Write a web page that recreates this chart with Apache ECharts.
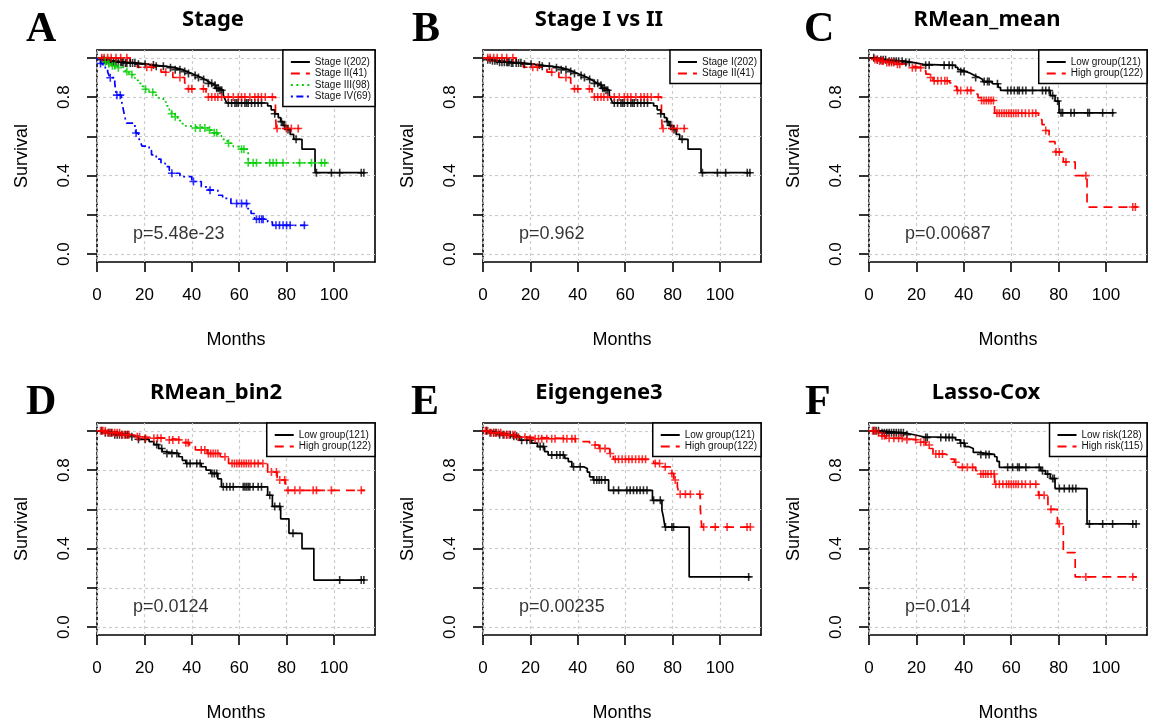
<!DOCTYPE html>
<html><head><meta charset="utf-8">
<script src="https://cdn.jsdelivr.net/npm/echarts@6/dist/echarts.min.js"></script>
<style>html,body{margin:0;padding:0;background:#fff}#c{width:1150px;height:726px}</style>
</head><body><div id="c"></div>
<script>
// ---------------- DATA ----------------
const xTicks = [0, 20, 40, 60, 80, 100];
const yTicks = [0, 0.2, 0.4, 0.6, 0.8, 1.0];
const yLabelValues = [0, 0.4, 0.8];
const panelLetters = ['A', 'B', 'C', 'D', 'E', 'F'];
const panelTitles = ['Stage', 'Stage I vs II', 'RMean_mean', 'RMean_bin2', 'Eigengene3', 'Lasso-Cox'];
const pValues = ['p=5.48e-23', 'p=0.962', 'p=0.00687', 'p=0.0124', 'p=0.00235', 'p=0.014'];

// Stage curves (panel A, B)
const stageI_steps = [[0,1],[2,0.99],[4,0.985],[7,0.978],[12,0.974],[17,0.968],[21,0.963],[24,0.957],[29,0.95],[33,0.94],[36,0.93],[38,0.92],[40,0.91],[42,0.9],[44,0.89],[45.5,0.88],[47,0.87],[48.5,0.86],[50,0.845],[51.5,0.835],[53.3,0.81],[54,0.79],[54.7,0.77],[72,0.755],[73.5,0.735],[75,0.715],[76.5,0.695],[77.5,0.675],[78.5,0.655],[80,0.635],[81.5,0.61],[83,0.585],[86.5,0.535],[92,0.415],[113,0.415]];
const stageI_censor = [2,3,4,5,6,7,8,9,10,10.5,11,12,12.6,14,15,16,17.5,20.3,23.8,25,28,31,33,35,37,38.6,41.4,42.8,45,47,48.4,49.8,50.5,51.2,51.9,52.6,55.4,56.8,58.2,58.9,59.6,61,62.4,63.1,63.8,65.2,66.6,68,69.4,75,77.8,79.2,80.6,84,92.6,98.9,102.4,111.5,112.6];
const stageII_steps = [[0,1],[14,0.976],[17,0.952],[27,0.927],[32,0.9],[37,0.871],[38,0.842],[46,0.8],[75.3,0.72],[75.6,0.64],[85.5,0.64]];
const stageII_censor = [2,3,4.5,6,8,10,12.6,21,23,29,35,38.6,40,44.9,47,48.4,49.8,51,52.6,55.4,57.5,59.6,61,62.4,64.5,66.6,68,69.4,71,74,76,79.9,82,84.9];
const stageIII_steps = [[0,1],[2,0.99],[3,0.98],[4,0.97],[6,0.96],[8,0.95],[12,0.93],[13.5,0.915],[15,0.9],[16,0.885],[17.5,0.87],[19,0.855],[20.5,0.84],[22,0.825],[24,0.81],[26,0.795],[28,0.775],[29.5,0.755],[30.5,0.735],[31.5,0.715],[33,0.7],[34,0.68],[35.5,0.665],[37.5,0.652],[40,0.643],[47,0.632],[49,0.618],[51,0.604],[52.5,0.585],[55,0.565],[57.5,0.548],[60,0.535],[63.8,0.465],[97,0.465]];
const stageIII_censor = [3.5,5,6.5,7.5,9,12.6,14.7,20.5,23.5,31.5,33,41.5,43.5,45.5,47.5,49.5,50.5,55.5,61,62,63.8,65.9,67.3,72.9,74.3,75.7,78.5,85.5,90.5,94.7,96.1];
const stageIV_steps = [[0,1],[0.5,0.985],[1.5,0.971],[2.5,0.957],[3.5,0.942],[4.5,0.928],[5,0.913],[5.5,0.899],[7.5,0.87],[7.8,0.84],[8.2,0.81],[10.3,0.783],[10.8,0.754],[11.3,0.725],[11.8,0.696],[12.5,0.667],[16,0.638],[16.5,0.617],[17.5,0.594],[18.3,0.572],[19,0.55],[22,0.528],[23,0.506],[25,0.484],[27,0.462],[28.8,0.446],[30.5,0.428],[31.5,0.412],[35,0.395],[40,0.37],[44,0.343],[47,0.326],[51,0.3],[53,0.284],[56.5,0.258],[63.5,0.232],[65,0.207],[66.5,0.178],[72,0.164],[74,0.147],[88,0.147]];
const stageIV_censor = [1.5,5.6,8.4,9.8,16.5,31.6,40.7,47.7,58.9,61,63.1,67.3,68.5,69.5,70.1,75.5,77,78.5,80,81.5,87.5];

// RMean_mean (panel C)
const rmeanLow_steps = [[0,1],[3,0.99],[8,0.983],[15,0.976],[19,0.967],[23,0.962],[36.5,0.951],[37.5,0.94],[38.5,0.93],[41,0.92],[43,0.91],[44.5,0.9],[46.5,0.89],[48,0.879],[52,0.868],[54.5,0.85],[55.5,0.834],[76.5,0.808],[78.5,0.78],[80.2,0.72],[103.5,0.72]];
const rmeanLow_censor = [2,3.5,5,6,7,8.5,9.5,10.5,11.5,12.5,14,15.5,17,23.9,25.4,31.7,33.8,35.2,38.7,40.1,45,48.6,50,50.7,54.2,58.5,59.9,61.3,62.7,63.4,64.8,66.2,69,73.2,74.6,76,77.5,79.6,81,81.7,85.2,86.6,92.3,93,98.6,102.8];
const rmeanHigh_steps = [[0,1],[2,0.992],[4,0.984],[7,0.976],[11,0.968],[15.5,0.96],[17,0.95],[22,0.934],[24,0.917],[25.5,0.9],[27,0.883],[34,0.872],[35.5,0.855],[37,0.834],[44,0.815],[46,0.797],[47.5,0.783],[53,0.718],[71.5,0.685],[73,0.66],[74.5,0.63],[76,0.573],[78.5,0.52],[82,0.47],[87,0.4],[92,0.24],[113.4,0.24]];
const rmeanHigh_censor = [2.5,3.5,4.5,5.5,6,7.5,8.5,9.5,10.5,12,13,18.3,19.7,21.8,26,27.5,29,30.5,32,33,37.3,38.7,41.5,43,47.5,48.5,49.5,50.5,51.5,52.5,54,55,56,57,58,59,60,61,62,63,64.5,66,67.5,69,70.4,74.6,78.9,80.3,83.1,91.5,111.3,112.4];

// RMean_bin2 (panel D)
const binLow_steps = [[0,1],[3,0.99],[7,0.98],[14,0.97],[17.5,0.957],[22,0.945],[24,0.93],[26,0.91],[27.5,0.894],[28.5,0.885],[34.5,0.868],[36,0.85],[37.5,0.834],[44,0.817],[46,0.8],[48,0.783],[51,0.755],[52.5,0.715],[72,0.672],[74,0.615],[77.5,0.552],[81,0.478],[86.5,0.4],[91.5,0.24],[113,0.24]];
const binLow_censor = [2,3.5,5,6,7.5,8.5,9.5,10.5,12,13,14.7,17.5,20.3,25.2,27.3,29.5,31.6,33.7,37.9,39.3,42.1,43.5,48.5,49.5,50.5,53.3,54.7,56.1,57.5,61.7,62.4,63.1,63.8,64.5,65.9,68,69.4,72.9,75,77.1,82.7,102.4,111.5,112.6];
const binHigh_steps = [[0,1],[4,0.99],[10,0.98],[15,0.97],[19,0.962],[30,0.954],[36,0.94],[39,0.92],[41.5,0.903],[46.5,0.885],[52,0.868],[55.5,0.834],[72,0.79],[76,0.75],[79.5,0.697],[113,0.697]];
const binHigh_censor = [1.5,2.5,3.5,4.5,5.5,6.5,7.5,8.5,9.5,10.5,11.5,12.5,13.5,17,18,20.5,24,25.5,27,30.5,32,34.5,37.5,38.5,44,45.5,47,48,49,50,51,54,57,58,59,60,61,62,63,64,65,66.5,68,70,73.6,75.7,77.1,79.2,80.6,83.5,85.6,91.2,92.6,98.9,111.5];

// Eigengene3 (panel E)
const eigLow_steps = [[0,1],[3,0.99],[7,0.98],[12,0.972],[15.5,0.952],[20.5,0.937],[23,0.92],[26,0.894],[27.5,0.877],[34.5,0.86],[36,0.843],[37.5,0.817],[42.5,0.808],[44,0.79],[45,0.766],[46.5,0.75],[53,0.697],[71.5,0.646],[75.5,0.595],[76,0.569],[76.8,0.51],[87,0.256],[112.8,0.256]];
const eigLow_censor = [1.5,3,4.5,5.5,7,8.5,10,11.5,13,14.2,16.3,18.5,19.9,24.1,25.5,29,31.1,32.5,33.9,38.2,41,46.8,48,49,50,51.5,55.1,57.2,60.7,62.1,63.5,64.9,66.3,67.7,69.2,72,74.8,77,79.7,80.4,112.1];
const eigHigh_steps = [[0,1],[3,0.99],[8,0.98],[14,0.968],[18,0.96],[39,0.945],[45,0.928],[49,0.91],[53.5,0.885],[55,0.855],[72,0.834],[75.5,0.817],[79,0.783],[80.5,0.75],[82,0.715],[82.8,0.677],[91.7,0.603],[92.3,0.51],[112.8,0.51]];
const eigHigh_censor = [1,2,3.5,4.5,5.5,6.5,7.5,9,10,11,12.5,13.5,15,17.7,19.9,22,23.4,24.8,26.9,29,30.4,33.9,35.4,37.5,38.9,47.3,49.4,51.5,53.7,55.8,57.2,58.7,60.1,61.5,62.9,64.4,65.8,67.2,68.6,72.7,74.5,76.9,79.7,81.1,83.2,85.4,87.5,91.5,93.1,98,103,111.4,112.8];

// Lasso-Cox (panel F)
const lassoLow_steps = [[0,1],[5,0.99],[15,0.98],[19,0.97],[23,0.966],[36.5,0.954],[38.5,0.937],[40.5,0.92],[42,0.91],[44,0.89],[46,0.88],[53,0.868],[54,0.845],[55,0.814],[72.5,0.797],[74.5,0.78],[76.5,0.757],[78.5,0.706],[92,0.526],[113,0.526]];
const lassoLow_censor = [2,3,4,5.5,6.5,7.5,8.5,9.5,10.5,11.5,12.5,13.5,14.5,16,23.9,24.6,30.3,32.4,33.8,35.2,38.7,40.1,47.2,49.3,50.7,58.5,60.6,62.7,63.4,66.2,71.8,73.2,75.4,77.5,78.2,80.3,82.4,84.5,85.9,87.3,93,98.6,102.8,111.3,112.7];
const lassoHigh_steps = [[0,1],[3,0.99],[5,0.975],[7,0.962],[15,0.955],[20,0.942],[24,0.928],[25.5,0.91],[27,0.882],[32,0.873],[34.5,0.856],[36,0.84],[37.5,0.814],[45,0.797],[46.5,0.78],[53,0.728],[71.5,0.672],[75.5,0.6],[79.5,0.527],[82,0.38],[87,0.256],[113,0.256]];
const lassoHigh_censor = [1.5,2.5,4,5.5,6.5,8.5,10.5,12.5,14,16,19.7,21.8,23.2,25.4,28.2,29.6,31,36.6,39.4,41.5,43.7,47.2,48.2,49.2,50.2,51.5,52.8,53.5,55,56.5,58,59,60,61,62,63,64.5,66,68,70.4,71.8,73.9,76.8,80.3,91.5,111.3];

// ---------------- LAYOUT / STYLE ----------------
const BLACK = {color:'#000000', dash:'solid'};
const RED = {color:'#ff0000', dash:[9,6]};
const GREEN = {color:'#00cd00', dash:[2,3.5]};
const BLUE = {color:'#0000ff', dash:[2,3.5,7,3.5]};

const panels = [
  [{name:'Stage I(202)', steps:stageI_steps, censor:stageI_censor, st:BLACK},
   {name:'Stage II(41)', steps:stageII_steps, censor:stageII_censor, st:RED},
   {name:'Stage III(98)', steps:stageIII_steps, censor:stageIII_censor, st:GREEN},
   {name:'Stage IV(69)', steps:stageIV_steps, censor:stageIV_censor, st:BLUE}],
  [{name:'Stage I(202)', steps:stageI_steps, censor:stageI_censor, st:BLACK},
   {name:'Stage II(41)', steps:stageII_steps, censor:stageII_censor, st:RED}],
  [{name:'Low group(121)', steps:rmeanLow_steps, censor:rmeanLow_censor, st:BLACK},
   {name:'High group(122)', steps:rmeanHigh_steps, censor:rmeanHigh_censor, st:RED}],
  [{name:'Low group(121)', steps:binLow_steps, censor:binLow_censor, st:BLACK},
   {name:'High group(122)', steps:binHigh_steps, censor:binHigh_censor, st:RED}],
  [{name:'Low group(121)', steps:eigLow_steps, censor:eigLow_censor, st:BLACK},
   {name:'High group(122)', steps:eigHigh_steps, censor:eigHigh_censor, st:RED}],
  [{name:'Low risk(128)', steps:lassoLow_steps, censor:lassoLow_censor, st:BLACK},
   {name:'High risk(115)', steps:lassoHigh_steps, censor:lassoHigh_censor, st:RED}]
];

const GRID_POS = [[97,50],[483,50],[869,50],[97,423],[483,423],[869,423]];
const GW = 278, GH = 212;
const X_MAX = 117.3, Y_MIN = -0.04, Y_MAX = 1.04;
const TITLE_X = [213, 599, 987, 216, 599, 986];
const LETTER_X = [26, 412, 804, 26, 411, 805];
const P_AT = [15, 0.1];
const FONT = 'Liberation Sans';
const CENSOR = 'path://M0,5L10,5M5,0L5,10';

function survAt(steps, t) {
  let s = steps[0][1];
  for (const [tt, v] of steps) { if (tt <= t) s = v; else break; }
  return s;
}

const option = {animation:false, backgroundColor:'#ffffff', grid:[], xAxis:[], yAxis:[], legend:[], series:[], graphic:[]};
const frame = {color:'#000', width:1.6};

panels.forEach((curves, i) => {
  const [gl, gt] = GRID_POS[i];
  option.grid.push({left:gl, top:gt, width:GW, height:GH, show:false, containLabel:false, outerBoundsMode:'none'});
  option.xAxis.push({
    gridIndex:i, type:'value', min:0, max:X_MAX, position:'bottom',
    axisLine:{show:true, onZero:false, lineStyle:frame},
    axisTick:{show:true, inside:false, length:10, customValues:xTicks, lineStyle:frame},
    axisLabel:{show:true, customValues:xTicks, margin:25, fontSize:17, fontFamily:FONT, color:'#000'},
    splitLine:{show:false},
    name:'Months', nameLocation:'middle', nameGap:69,
    nameTextStyle:{fontSize:18, fontFamily:FONT, color:'#000'}
  });
  option.xAxis.push({
    gridIndex:i, type:'value', min:0, max:X_MAX, position:'top',
    axisLine:{show:true, onZero:false, lineStyle:frame},
    axisTick:{show:false}, axisLabel:{show:false}, splitLine:{show:false}
  });
  option.yAxis.push({
    gridIndex:i, type:'value', min:Y_MIN, max:Y_MAX, position:'left',
    axisLine:{show:true, onZero:false, lineStyle:{color:'#000', width:1.6, type:[3,2]}},
    axisTick:{show:true, inside:false, length:10, customValues:yTicks, lineStyle:frame},
    axisLabel:{show:true, customValues:yLabelValues, rotate:90, margin:24, fontSize:17, fontFamily:FONT, color:'#000',
      formatter: v => Number(v).toFixed(1)},
    splitLine:{show:false},
    name:'Survival', nameLocation:'middle', nameGap:66,
    nameTextStyle:{fontSize:18, fontFamily:FONT, color:'#000'}
  });
  option.yAxis.push({
    gridIndex:i, type:'value', min:Y_MIN, max:Y_MAX, position:'right',
    axisLine:{show:true, onZero:false, lineStyle:frame},
    axisTick:{show:false}, axisLabel:{show:false}, splitLine:{show:false}
  });
  const xi = 2*i, yi = 2*i;
  // grid lines
  option.series.push({
    type:'line', name:'grid'+i, xAxisIndex:xi, yAxisIndex:yi, data:[], z:1, silent:true,
    markLine:{silent:true, symbol:['none','none'], z:1, animation:false,
      label:{show:false}, lineStyle:{color:'#cccccc', type:[3,3], width:1.2},
      emphasis:{disabled:true},
      data: yTicks.map(v => ({yAxis:v})).concat(xTicks.map(v => ({xAxis:v})))}
  });
  curves.forEach((c, k) => {
    option.series.push({
      type:'line', name:c.name, xAxisIndex:xi, yAxisIndex:yi, step:'end',
      data:c.steps, showSymbol:false, symbol:'none', z:6, silent:true,
      lineStyle:{color:c.st.color, width:1.7, type:c.st.dash},
      itemStyle:{color:c.st.color}
    });
    option.series.push({
      type:'scatter', name:'censor-'+i+'-'+k, xAxisIndex:xi, yAxisIndex:yi,
      data:c.censor.map(t => [t, survAt(c.steps, t)]),
      symbol:CENSOR, symbolSize:8, z:7, silent:true,
      itemStyle:{color:'rgba(0,0,0,0)', borderColor:c.st.color, borderWidth:1.6}
    });
  });
  // p-value annotation
  option.series.push({
    type:'scatter', name:'p'+i, xAxisIndex:xi, yAxisIndex:yi, data:[P_AT], symbolSize:1, z:8, silent:true,
    itemStyle:{color:'rgba(0,0,0,0)'},
    label:{show:true, position:'right', distance:0, formatter:pValues[i], fontSize:18, fontFamily:FONT, color:'#000'}
  });
  // legend
  option.legend.push({
    data:curves.map(c => c.name), orient:'vertical', right:1150 - (gl + GW), top:gt,
    itemWidth:19, itemHeight:11, itemGap:1.5, itemTextGap:7, padding:[7,4,5,7],
    borderColor:'#000', borderWidth:1.5, backgroundColor:'#fff', selectedMode:false, z:10,
    itemStyle:{opacity:0, borderWidth:0},
    textStyle:{fontSize:10, fontFamily:FONT, color:'#111'}
  });
  // title & panel letter
  const row = i < 3 ? 0 : 1;
  option.graphic.push({type:'text', x:TITLE_X[i], y: row ? 393 : 20,
    style:{text:panelTitles[i], font:'bold 22px "Noto Sans"', fill:'#000', align:'center', verticalAlign:'middle', textAlign:'center', textVerticalAlign:'middle'}});
  option.graphic.push({type:'text', x:LETTER_X[i], y: row ? 403 : 30,
    style:{text:panelLetters[i], font:'bold 42px "Liberation Serif"', fill:'#000', align:'left', verticalAlign:'middle', textAlign:'left', textVerticalAlign:'middle'}});
});

const chart = echarts.init(document.getElementById('c'), null, {renderer:'canvas'});
chart.setOption(option);
</script>
</body></html>
